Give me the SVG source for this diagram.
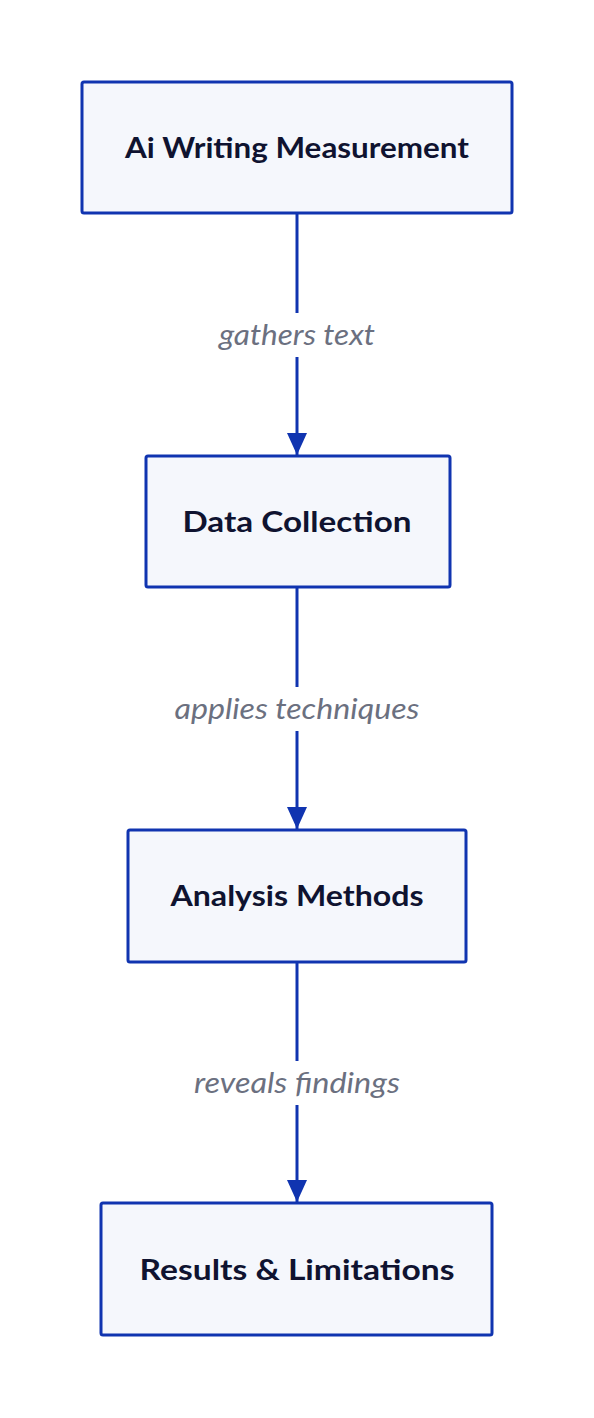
<svg xmlns="http://www.w3.org/2000/svg" width="594" height="1418" viewBox="0 0 594 1418">
<style>
.box{fill:#f5f7fc;stroke:#1034b0;stroke-width:3}
.t{font-family:Lato,"Liberation Sans",sans-serif;font-weight:bold;font-size:28px;fill:#0f1330;text-anchor:middle}
.l{font-family:Lato,"Liberation Sans",sans-serif;font-style:italic;font-size:28px;fill:#6b7080;text-anchor:middle}
.c{stroke:#1034b0;stroke-width:3;fill:none}
</style>
<defs>
<marker id="ah" markerUnits="userSpaceOnUse" markerWidth="24" markerHeight="20" refX="22" refY="10" orient="auto">
<path d="M0,0 L22,10 L0,20 Z" fill="#1034b0"/>
</marker>
</defs>
<rect width="594" height="1418" fill="#ffffff"/>
<g id="connectors">
<line class="c" x1="297" y1="213" x2="297" y2="313"/>
<line class="c" x1="297" y1="357" x2="297" y2="455" marker-end="url(#ah)"/>
<text class="l" x="297" y="345" textLength="156" lengthAdjust="spacingAndGlyphs">gathers text</text>
<line class="c" x1="297" y1="587" x2="297" y2="687"/>
<line class="c" x1="297" y1="731" x2="297" y2="829" marker-end="url(#ah)"/>
<text class="l" x="297" y="719" textLength="245" lengthAdjust="spacingAndGlyphs">applies techniques</text>
<line class="c" x1="297" y1="962" x2="297" y2="1061"/>
<line class="c" x1="297" y1="1105" x2="297" y2="1202" marker-end="url(#ah)"/>
<text class="l" x="297" y="1093" textLength="206" lengthAdjust="spacingAndGlyphs">reveals findings</text>
</g>
<g id="node1">
<rect class="box" x="82" y="82" width="430" height="131" rx="2"/>
<text class="t" x="297" y="158" textLength="344" lengthAdjust="spacingAndGlyphs">Ai Writing Measurement</text>
</g>
<g id="node2">
<rect class="box" x="146" y="456" width="304" height="131" rx="2"/>
<text class="t" x="297" y="532" textLength="229" lengthAdjust="spacingAndGlyphs">Data Collection</text>
</g>
<g id="node3">
<rect class="box" x="128" y="830" width="338" height="132" rx="2"/>
<text class="t" x="297" y="906" textLength="253" lengthAdjust="spacingAndGlyphs">Analysis Methods</text>
</g>
<g id="node4">
<rect class="box" x="101" y="1203" width="391" height="132" rx="2"/>
<text class="t" x="297" y="1280" textLength="315" lengthAdjust="spacingAndGlyphs">Results &amp; Limitations</text>
</g>
</svg>
